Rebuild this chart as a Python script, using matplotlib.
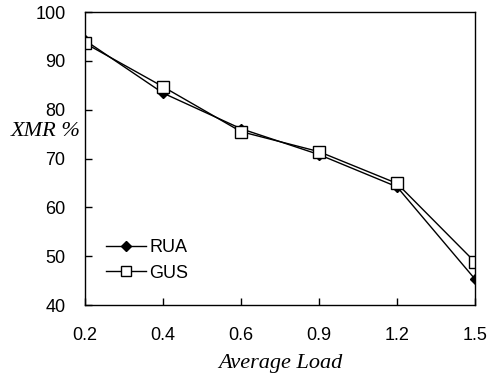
import matplotlib
matplotlib.use("Agg")
import matplotlib.pyplot as plt

categories = ["0.2", "0.4", "0.6", "0.9", "1.2", "1.5"]
rua = [94.2, 83.4, 76.1, 70.8, 64.2, 45.3]
gus = [93.6, 84.7, 75.5, 71.4, 64.9, 48.8]
yticks = [40, 50, 60, 70, 80, 90, 100]

fig = plt.figure(figsize=(4.93, 3.73), dpi=100)
ax = fig.add_axes([85/493, 1-305/373, 390/493, 293/373])
x = list(range(len(categories)))
ax.plot(x, rua, color="black", lw=1, marker="D", ms=5.5, mfc="black", mec="black", label="RUA")
ax.plot(x, gus, color="black", lw=1, marker="s", ms=8, mfc="white", mec="black", label="GUS")
ax.set_xlim(0, len(categories)-1)
ax.set_ylim(40, 100)
ax.set_xticks(x)
ax.set_xticklabels(categories, family="Liberation Sans", fontsize=13)
ax.set_yticks(yticks)
ax.set_yticklabels([str(v) for v in yticks], family="Liberation Sans", fontsize=13)
ax.tick_params(axis="x", direction="in", length=5, width=1, pad=16, top=False)
ax.tick_params(axis="y", direction="in", length=5, width=1, pad=14, right=False)
for s in ax.spines.values():
    s.set_linewidth(1)
ax.set_xlabel("Average Load", family="Liberation Serif", style="italic", fontsize=16, labelpad=7)
fig.text(46/493, 1-132/373, "XMR %", family="Liberation Serif", style="italic", fontsize=16, ha="center", va="center")
leg = ax.legend(loc="lower left", bbox_to_anchor=(14/390, 16/293), frameon=False, prop={"family": "Liberation Sans", "size": 13},
                handlelength=2.2, labelspacing=0.47, handletextpad=0.2, borderaxespad=0, markerscale=0.85)
fig.savefig("out.png", dpi=100)
